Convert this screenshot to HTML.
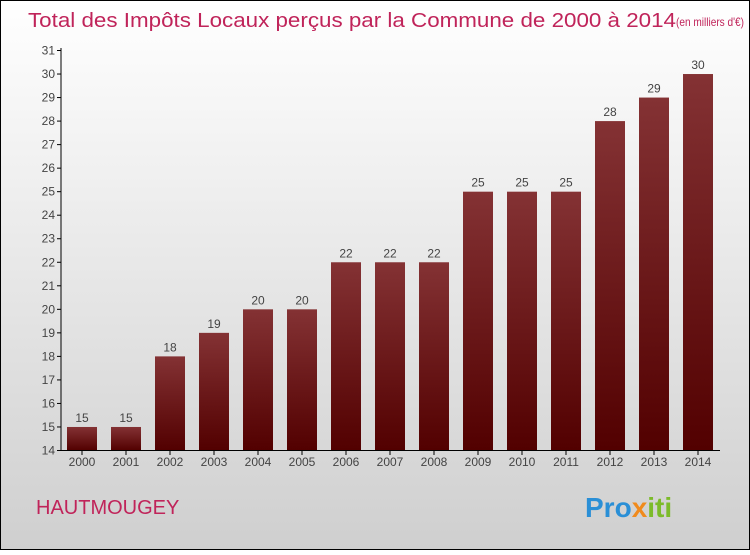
<!DOCTYPE html>
<html><head><meta charset="utf-8"><style>
body{margin:0;width:750px;height:550px;overflow:hidden;font-family:"Liberation Sans",sans-serif}
</style></head><body>
<svg width="750" height="550" xmlns="http://www.w3.org/2000/svg">
<defs>
<linearGradient id="bg" x1="0" y1="0" x2="0" y2="1"><stop offset="0" stop-color="#ffffff"/><stop offset="1" stop-color="#cfcfcf"/></linearGradient>
<linearGradient id="bar" x1="0" y1="0" x2="0" y2="1"><stop offset="0" stop-color="#843234"/><stop offset="1" stop-color="#520000"/></linearGradient>
</defs>
<rect x="0.5" y="0.5" width="749" height="549" fill="url(#bg)" stroke="#000"/>
<text x="28" y="27" font-size="20" fill="#c0245a" textLength="648" lengthAdjust="spacingAndGlyphs">Total des Impôts Locaux perçus par la Commune de 2000 à 2014</text>
<text x="676" y="26" font-size="12" fill="#c0245a" textLength="68" lengthAdjust="spacingAndGlyphs">(en milliers d'€)</text>
<g id="plot"></g>
<text x="36" y="514" font-size="20" fill="#c0245a">HAUTMOUGEY</text>
<text x="585" y="517" font-size="28" font-weight="bold"><tspan fill="#2a8fd6">Pro</tspan><tspan fill="#f08a1c">x</tspan><tspan fill="#7cbb2a">iti</tspan></text>
</svg>
<script>
const years=["2000","2001","2002","2003","2004","2005","2006","2007","2008","2009","2010","2011","2012","2013","2014"];
const values=[15,15,18,19,20,20,22,22,22,25,25,25,28,29,30];
const yTicks=[14,15,16,17,18,19,20,21,22,23,24,25,26,27,28,29,30,31];
const NS="http://www.w3.org/2000/svg";
const g=document.getElementById('plot');
const y=v=>450.5-(v-14)*(400/17);
const x=i=>82+i*44;
function el(t,a){const e=document.createElementNS(NS,t);for(const k in a)e.setAttribute(k,a[k]);g.appendChild(e);return e;}
yTicks.forEach(t=>{
 const l=el('line',{x1:57,x2:61,y1:y(t),y2:y(t),stroke:'#000'});
 
 
 const tx=el('text',{x:55,y:y(t)+4,'font-size':12,'text-anchor':'end',fill:'#444'});
 tx.textContent=t;
 
 
});
years.forEach((yr,i)=>{
 const r=el('rect',{x:x(i)-15,y:y(values[i]),width:30,height:450.5-y(values[i]),fill:'url(#bar)'});
 
 
 const v=el('text',{x:x(i),y:y(values[i])-5,'font-size':12,'text-anchor':'middle',fill:'#444'});
 v.textContent=values[i];
 
 
 const tk=el('line',{x1:x(i),x2:x(i),y1:450,y2:455,stroke:'#000'});
 
 
 const lb=el('text',{x:x(i),y:466,'font-size':12,'text-anchor':'middle',fill:'#444'});
 lb.textContent=yr;
 
 
});
const ya=el('line',{x1:61,x2:61,y1:48,y2:451,stroke:'#000'});


const xa=el('line',{x1:61,x2:720,y1:450.5,y2:450.5,stroke:'#000'});


</script>
</body></html>
